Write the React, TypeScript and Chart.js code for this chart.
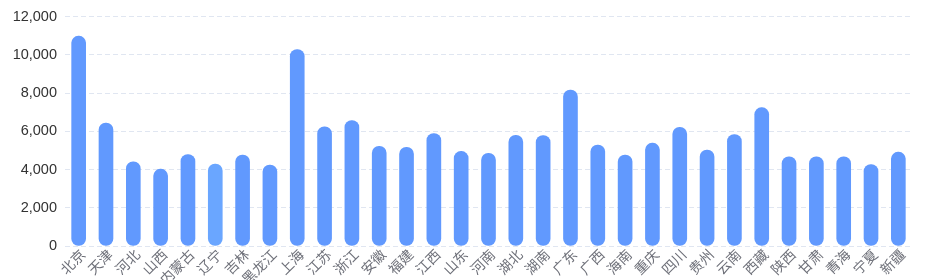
import React, { useEffect, useRef } from "react";
import { Chart, registerables } from "chart.js";

Chart.register(...registerables);

const provinces = ["北京","天津","河北","山西","内蒙古","辽宁","吉林","黑龙江","上海","江苏","浙江","安徽","福建","江西","山东","河南","湖北","湖南","广东","广西","海南","重庆","四川","贵州","云南","西藏","陕西","甘肃","青海","宁夏","新疆"];
const values = [10980,6430,4410,4020,4790,4290,4760,4240,10280,6240,6570,5220,5170,5880,4950,4850,5790,5780,8160,5280,4760,5380,6210,5020,5830,7240,4670,4670,4670,4260,4910];
const yTicks = [0, 2000, 4000, 6000, 8000, 10000, 12000];

const BAR = "#6199fe";
const HILITE = "#6aa6ff";

export default function App() {
  const ref = useRef<HTMLCanvasElement>(null);
  useEffect(() => {
    if (!ref.current) return;
    const chart = new Chart(ref.current, {
      type: "bar",
      data: {
        labels: provinces,
        datasets: [{
          data: values,
          backgroundColor: provinces.map((p) => (p === "辽宁" ? HILITE : BAR)),
          borderWidth: 0,
          borderRadius: 7,
          borderSkipped: false,
          barThickness: 14,
        }],
      },
      options: {
        responsive: false,
        animation: false,
        layout: { padding: { top: 14, right: 18, left: 0, bottom: 0 } },
        plugins: { legend: { display: false }, tooltip: { enabled: false } },
        scales: {
          x: {
            grid: { display: false, drawTicks: false },
            border: { display: false },
            ticks: {
              autoSkip: false,
              maxRotation: 45,
              minRotation: 45,
              padding: 0,
              labelOffset: 4,
              color: "#6e7079",
              font: { family: "'Noto Sans CJK SC', sans-serif", size: 14 },
            },
            afterFit: (s: any) => { s.height = 34; },
          },
          y: {
            min: 0,
            max: 12000,
            afterBuildTicks: (s: any) => { s.ticks = yTicks.map((v) => ({ value: v })); },
            grid: { color: "#e0e6f1", drawTicks: false, lineWidth: 1 },
            border: { display: false, dash: [5, 3] },
            ticks: {
              padding: 8,
              color: "#333",
              font: { family: "'Liberation Sans', sans-serif", size: 14.5 },
              callback: (v: any) => Number(v).toLocaleString("en-US"),
            },
            afterFit: (s: any) => { s.width = 65; },
          },
        },
      },
    });
    return () => chart.destroy();
  }, []);
  return (
    <div style={{ position: "fixed", left: 0, top: 0, width: 930, height: 280, background: "#fff" }}>
      <canvas ref={ref} width={930} height={280} style={{ width: 930, height: 280 }} />
    </div>
  );
}
